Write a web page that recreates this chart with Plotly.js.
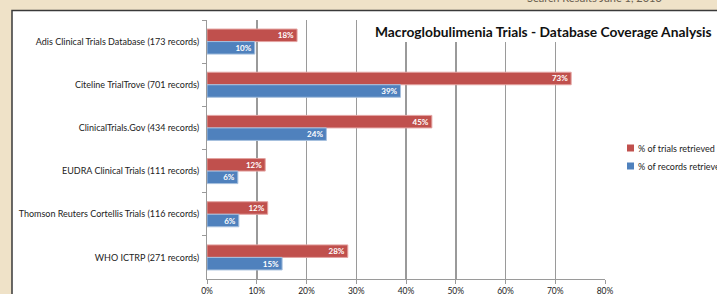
<!DOCTYPE html>
<html>
<head>
<meta charset="utf-8">
<script src="https://cdn.plot.ly/plotly-3.0.1.min.js"></script>
<style>
html,body{margin:0;padding:0;background:#efe2c8;}
#chart{width:717px;height:294px;}
</style>
</head>
<body>
<div id="chart"></div>
<script>
var databases = [
  "Adis Clinical Trials Database (173 records)",
  "Citeline TrialTrove (701 records)",
  "ClinicalTrials.Gov (434 records)",
  "EUDRA Clinical Trials (111 records)",
  "Thomson Reuters Cortellis Trials (116 records)",
  "WHO ICTRP (271 records)"
];
var trialsRetrieved = [0.181, 0.732, 0.452, 0.117, 0.122, 0.283];
var recordsRetrieved = [0.096, 0.389, 0.240, 0.062, 0.064, 0.151];
var seriesNames = ["% of trials retrieved", "% of records retrieved"];
var seriesColors = ["#c0504d", "#4f81bd"];
var chartTitle = "Macroglobulimenia Trials - Database Coverage Analysis";
var headerText = "Search Results June 1, 2013";

var W = 717, H = 294;
var L = 207, R = 605, T = 20, B = 279;
var pw = R - L, ph = B - T;
function px(x){ return (x - L) / pw; }
function py(y){ return (B - y) / ph; }

var font = "Lato, 'Open Sans', sans-serif";

var traces = [
  {
    type: "bar", orientation: "h",
    name: seriesNames[0],
    y: databases, x: trialsRetrieved,
    marker: {color: seriesColors[0], line: {color: "#e3a3a1", width: 1}},
    texttemplate: "%{x:.0%}", textposition: "inside", insidetextanchor: "end",
    textangle: 0, constraintext: "none",
    textfont: {color: "#ffffff", size: 8, family: font, weight: "bold"},
    hoverinfo: "skip", showlegend: false
  },
  {
    type: "bar", orientation: "h",
    name: seriesNames[1],
    y: databases, x: recordsRetrieved,
    marker: {color: seriesColors[1], line: {color: "#a7c0de", width: 1}},
    texttemplate: "%{x:.0%}", textposition: "inside", insidetextanchor: "end",
    textangle: 0, constraintext: "none",
    textfont: {color: "#ffffff", size: 8, family: font, weight: "bold"},
    hoverinfo: "skip", showlegend: false
  }
];

var shapes = [
  {
    type: "rect", xref: "paper", yref: "paper", layer: "below",
    x0: px(12), x1: px(760), y0: py(330), y1: py(10.5),
    fillcolor: "#ffffff", line: {color: "#3a3a3a", width: 1.5}
  },
  {
    // white backing of the chart title (covers gridlines behind it)
    type: "rect", xref: "paper", yref: "paper", layer: "above",
    x0: px(372), x1: px(714), y0: py(42), y1: py(18),
    fillcolor: "#ffffff", line: {width: 0}
  }
];
var annotations = [
  {
    xref: "paper", yref: "paper", x: px(543), y: py(31),
    xanchor: "center", yanchor: "middle", showarrow: false,
    text: "<b>" + chartTitle + "</b>",
    font: {size: 13.8, family: font, color: "#111"}
  },
  {
    xref: "paper", yref: "paper", x: px(594), y: py(-2),
    xanchor: "center", yanchor: "middle", showarrow: false,
    text: headerText,
    font: {size: 11, family: font, color: "#6a6050"}
  }
];
// custom legend (small Excel-style squares)
var legendY = [148, 166];
for (var i = 0; i < seriesNames.length; i++) {
  shapes.push({
    type: "rect", xref: "paper", yref: "paper", layer: "above",
    x0: px(627), x1: px(634), y0: py(legendY[i] + 3.5), y1: py(legendY[i] - 3.5),
    fillcolor: seriesColors[i], line: {width: 0}
  });
  annotations.push({
    xref: "paper", yref: "paper", x: px(636), y: py(legendY[i]),
    xanchor: "left", yanchor: "middle", showarrow: false,
    text: seriesNames[i],
    font: {size: 9, family: font, color: "#222"}
  });
}

var layout = {
  width: W, height: H,
  margin: {l: L, r: W - R, t: T, b: H - B, pad: 0, autoexpand: false},
  paper_bgcolor: "#efe2c8",
  plot_bgcolor: "rgba(0,0,0,0)",
  font: {family: font, color: "#222"},
  barmode: "group",
  bargap: 0.42,
  bargroupgap: 0,
  showlegend: false,
  xaxis: {
    range: [0, 0.8], dtick: 0.1, tick0: 0, tickformat: ".0%",
    showgrid: true, gridcolor: "#9a9a9a", gridwidth: 1.5,
    zeroline: false, showline: true, linecolor: "#9a9a9a", linewidth: 1,
    ticks: "outside", ticklen: 4, tickcolor: "#9a9a9a",
    tickfont: {size: 8.5, family: font, color: "#222"}, fixedrange: true,
    automargin: false
  },
  yaxis: {
    type: "category", autorange: "reversed",
    showgrid: false, zeroline: false, showline: true, linecolor: "#9a9a9a", linewidth: 1,
    ticks: "outside", ticklen: 4, tickcolor: "#9a9a9a", tickson: "boundaries",
    ticklabelstandoff: 5,
    tickfont: {size: 9, family: font, color: "#222"}, fixedrange: true,
    automargin: false
  },
  shapes: shapes,
  annotations: annotations
};

Plotly.newPlot("chart", traces, layout, {displayModeBar: false, staticPlot: true});
</script>
</body>
</html>
